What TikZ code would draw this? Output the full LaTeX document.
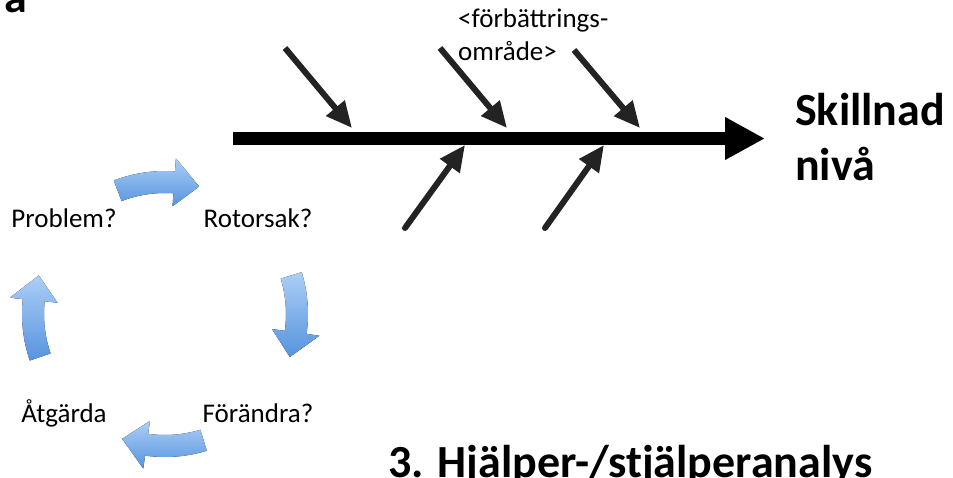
\documentclass[tikz,border=0pt]{standalone}
\usepackage{fontspec}
\setmainfont{Carlito}
\usetikzlibrary{arrows.meta,positioning}
\definecolor{bonegray}{HTML}{232323}
\definecolor{cyclelight}{RGB}{172,206,246}
\definecolor{cycledark}{RGB}{86,148,222}

\begin{document}
\begin{tikzpicture}[x=1pt,y=-1pt,
		spine/.style={black, line width=13pt, -{Triangle[length=40pt,width=40pt]}},
		bone/.style={bonegray, line width=6pt, -{Triangle[length=26pt,width=23pt]}},
		small/.style={font=\fontsize{27}{33}\selectfont, inner sep=0pt, align=left},
		big/.style={font=\fontsize{46}{55}\selectfont\bfseries, inner sep=0pt, align=left},
		cyclearrow/.style={top color=cyclelight, bottom color=cycledark, draw=none}]
		\clip (0,0) rectangle (953,477);

		% fiskbenet
		\coordinate (tail) at (233,138.5);
		\coordinate (head) at (765,138.5);
		\draw[spine] (tail) -- (head);
		\coordinate (t1) at (285,48);
		\coordinate (t2) at (440,48);
		\coordinate (t3) at (574,50);
		\coordinate (j1) at (352,128);
		\coordinate (j2) at (507,128);
		\coordinate (j3) at (640,128);
		\coordinate (b1) at (405,228);
		\coordinate (b2) at (545,228);
		\coordinate (k1) at (465,145);
		\coordinate (k2) at (604,145);
		\draw[bone] (t1) -- (j1);
		\draw[bone] (t2) -- (j2);
		\draw[bone] (t3) -- (j3);
		\draw[bone, line cap=round] (b1) -- (k1);
		\draw[bone, line cap=round] (b2) -- (k2);

		\node[small, anchor=base west] (omrade) at (458,60) {<förbättrings-\\område>};
		\node[big, anchor=base west] (skillnad) at (795,180) {Skillnad\\nivå};
		\node[big, anchor=base west] (rubrik) at (388,477) {3. Hjälper-/stjälperanalys};
		\node[big, anchor=base west] (bokstav) at (4,12) {a};

		% cykeln
		\node[small, anchor=base] (problem) at (64,227) {Problem?};
		\node[small, anchor=base] (rotorsak) at (258,227) {Rotorsak?};
		\node[small, anchor=base] (forandra) at (258,422) {Förändra?};
		\node[small, anchor=base] (atgarda) at (64,422) {Åtgärda};
		\begin{scope}[shift={(165,314)}]
			\foreach \s in {-111,-17,73,161}{
				\pgfmathsetmacro{\h}{\s+25}
				\pgfmathsetmacro{\e}{\s+36}
				\fill[cyclearrow]
					plot[domain=\s:\h, samples=15] ({143*cos(\x)},{143*sin(\x)})
					-- (\h:156) -- (\e:132) -- (\h:108) -- (\h:121)
					-- plot[domain=\h:\s, samples=15] ({121*cos(\x)},{121*sin(\x)})
					-- cycle;
			}
		\end{scope}
	\end{tikzpicture}
\end{document}
